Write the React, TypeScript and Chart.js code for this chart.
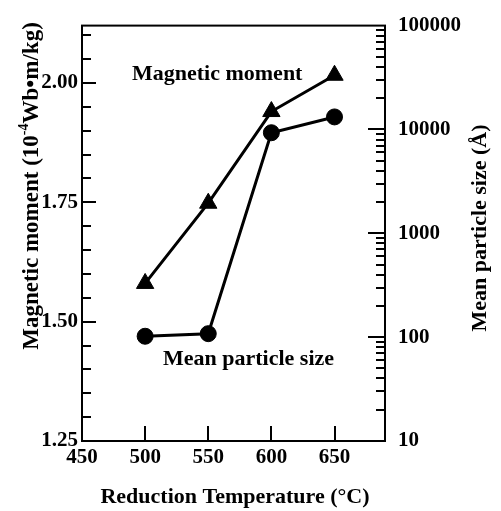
import React, { useEffect, useRef } from "react";
import { Chart, registerables } from "chart.js";

Chart.register(...registerables);

const TEMPERATURES = [500, 550, 600, 650];
const MAGNETIC_MOMENT = [1.58, 1.748, 1.94, 2.016];
const PARTICLE_SIZE = [102, 108, 9300, 13200];
const X_TICKS = [450, 500, 550, 600, 650];
const LEFT_TICKS = [1.25, 1.5, 1.75, 2.0];
const RIGHT_TICKS = [10, 100, 1000, 10000, 100000];

const FONT = '"Liberation Serif", "Times New Roman", serif';

const decorPlugin = {
  id: "decor",
  afterDraw(chart: any) {
    const { ctx, chartArea: a, scales } = chart;
    const x = scales.x;
    const yL = scales.y;
    const yR = scales.y1;
    ctx.save();
    ctx.strokeStyle = "#000";
    ctx.lineWidth = 2;
    ctx.beginPath();
    X_TICKS.forEach((v) => {
      if (v <= x.min) return;
      const px = Math.round(x.getPixelForValue(v));
      ctx.moveTo(px, a.bottom);
      ctx.lineTo(px, a.bottom - 15);
    });
    for (let i = 1; ; i++) {
      const v = 1.25 + i * 0.05;
      if (v > yL.max - 0.005) break;
      const py = Math.round(yL.getPixelForValue(v));
      const major = i % 5 === 0;
      ctx.moveTo(a.left, py);
      ctx.lineTo(a.left + (major ? 14 : 9), py);
    }
    for (let d = 10; d < yR.max; d *= 10) {
      for (let m = 1; m <= 9; m++) {
        const v = d * m;
        if (v <= yR.min || v >= yR.max) continue;
        const py = Math.round(yR.getPixelForValue(v));
        ctx.moveTo(a.right, py);
        ctx.lineTo(a.right - (m === 1 ? 17 : 9), py);
      }
    }
    ctx.stroke();
    ctx.lineWidth = 2;
    ctx.strokeRect(a.left, a.top, a.right - a.left, a.bottom - a.top);

    ctx.fillStyle = "#000";
    ctx.textBaseline = "alphabetic";
    // x title
    ctx.font = `bold 22px ${FONT}`;
    ctx.textAlign = "center";
    ctx.fillText("Reduction Temperature (°C)", 235, 503);
    // annotations
    ctx.textAlign = "left";
    ctx.font = `bold 22px ${FONT}`;
    ctx.fillText("Magnetic moment", 132, 80);
    ctx.fillText("Mean particle size", 163, 365);

    // left title with superscript
    const main = `bold 23px ${FONT}`;
    const sup = `bold 14px ${FONT}`;
    const segs: [string, string, number][] = [
      ["Magnetic moment (10", main, 0],
      ["-4", sup, -10],
      ["Wb\u2022m/kg)", main, 0],
    ];
    let total = 0;
    segs.forEach(([t, f]) => {
      ctx.font = f;
      total += ctx.measureText(t).width;
    });
    ctx.save();
    ctx.translate(38, 186);
    ctx.rotate(-Math.PI / 2);
    let cx = -total / 2;
    segs.forEach(([t, f, dy]) => {
      ctx.font = f;
      ctx.fillText(t, cx, dy);
      cx += ctx.measureText(t).width;
    });
    ctx.restore();

    // right title
    ctx.save();
    ctx.translate(486, 228);
    ctx.rotate(-Math.PI / 2);
    ctx.font = `bold 22px ${FONT}`;
    ctx.textAlign = "center";
    ctx.fillText("Mean particle size (\u00C5)", 0, 0);
    ctx.restore();

    ctx.restore();
  },
};

export default function App() {
  const ref = useRef<HTMLCanvasElement>(null);
  useEffect(() => {
    if (!ref.current) return;
    const tickFont = { family: FONT, size: 21, weight: "bold" as const };
    const noGrid = { display: false, drawTicks: false, tickLength: 0 };
    const chart = new Chart(ref.current, {
      type: "line",
      data: {
        datasets: [
          {
            label: "Magnetic moment",
            data: TEMPERATURES.map((t, i) => ({ x: t, y: MAGNETIC_MOMENT[i] })),
            yAxisID: "y",
            borderColor: "#000",
            backgroundColor: "#000",
            borderWidth: 3,
            pointStyle: "triangle",
            pointRadius: 10,
            pointBorderWidth: 1,
            tension: 0,
          },
          {
            label: "Mean particle size",
            data: TEMPERATURES.map((t, i) => ({ x: t, y: PARTICLE_SIZE[i] })),
            yAxisID: "y1",
            borderColor: "#000",
            backgroundColor: "#000",
            borderWidth: 3,
            pointStyle: "circle",
            pointRadius: 8,
            pointBorderWidth: 1,
            tension: 0,
          },
        ],
      },
      options: {
        animation: false,
        responsive: false,
        layout: { padding: { top: 19, left: 0, right: 0, bottom: 0 } },
        plugins: { legend: { display: false }, tooltip: { enabled: false } },
        scales: {
          x: {
            type: "linear",
            min: 450,
            max: 690,
            grid: noGrid,
            border: { display: false },
            afterBuildTicks: (s: any) => {
              s.ticks = X_TICKS.map((v) => ({ value: v }));
            },
            afterFit: (s: any) => {
              s.height = 70;
            },
            ticks: {
              autoSkip: false,
              maxRotation: 0,
              padding: 4,
              color: "#000",
              font: tickFont,
              callback: (v: any) => String(v),
            },
          },
          y: {
            type: "linear",
            position: "left",
            min: 1.25,
            max: 2.12,
            grid: noGrid,
            border: { display: false },
            afterBuildTicks: (s: any) => {
              s.ticks = LEFT_TICKS.map((v) => ({ value: v }));
            },
            afterFit: (s: any) => {
              s.width = 82;
            },
            ticks: {
              autoSkip: false,
              padding: 4,
              color: "#000",
              font: tickFont,
              callback: (v: any) => Number(v).toFixed(2),
            },
          },
          y1: {
            type: "logarithmic",
            position: "right",
            min: 10,
            max: 100000,
            grid: noGrid,
            border: { display: false },
            afterBuildTicks: (s: any) => {
              s.ticks = RIGHT_TICKS.map((v) => ({ value: v }));
            },
            afterFit: (s: any) => {
              s.width = 116;
            },
            ticks: {
              autoSkip: false,
              padding: 13,
              color: "#000",
              font: tickFont,
              callback: (v: any) => String(v),
            },
          },
        },
      },
      plugins: [decorPlugin],
    });
    return () => chart.destroy();
  }, []);
  return (
    <div style={{ position: "fixed", left: 0, top: 0, width: 501, height: 511, background: "#fff" }}>
      <canvas ref={ref} width={501} height={511} />
    </div>
  );
}
